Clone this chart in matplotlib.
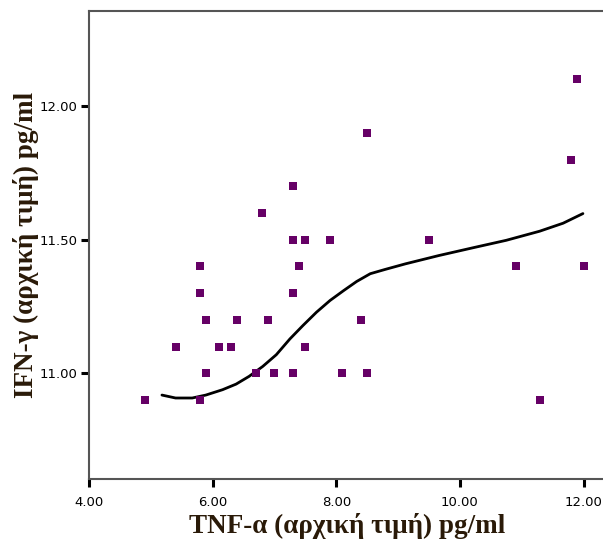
import matplotlib
matplotlib.use("Agg")
import matplotlib.pyplot as plt
from matplotlib.ticker import FixedLocator, FormatStrFormatter

# Data
tnf = [4.9, 5.4, 5.8, 5.8, 5.8, 5.9, 5.9, 6.1, 6.3, 6.4, 6.7, 6.8, 6.9, 7.0,
       7.3, 7.3, 7.3, 7.3, 7.4, 7.5, 7.5, 7.9, 8.1, 8.4, 8.5, 8.5,
       9.5, 10.9, 11.3, 11.8, 11.9, 12.0]
ifn = [10.9, 11.1, 10.9, 11.3, 11.4, 11.0, 11.2, 11.1, 11.1, 11.2, 11.0, 11.6, 11.2, 11.0,
       11.0, 11.3, 11.5, 11.7, 11.4, 11.1, 11.5, 11.5, 11.0, 11.2, 11.0, 11.9,
       11.5, 11.4, 10.9, 11.8, 12.1, 11.4]

# Loess fit line
fit_x = [5.18, 5.40, 5.67, 5.89, 6.16, 6.38, 6.59, 6.81, 7.03, 7.25, 7.46, 7.68,
         7.90, 8.12, 8.33, 8.55, 8.79, 9.12, 9.66, 10.21, 10.75, 11.29, 11.67, 11.99]
fit_y = [10.919, 10.908, 10.908, 10.919, 10.939, 10.960, 10.989, 11.026, 11.070,
         11.129, 11.179, 11.229, 11.273, 11.310, 11.344, 11.373, 11.389, 11.410,
         11.441, 11.470, 11.498, 11.532, 11.562, 11.598]

xticks = [4.0, 6.0, 8.0, 10.0, 12.0]
yticks = [11.0, 11.5, 12.0]
xlabel = "TNF-α (αρχική τιμή) pg/ml"
ylabel = "IFN-γ (αρχική τιμή) pg/ml"

fig = plt.figure(figsize=(6.03, 5.54), dpi=100)
ax = fig.add_axes([0.1476, 0.1354, 0.856, 0.8448])

ax.plot(fit_x, fit_y, color="black", lw=2.0, zorder=2,
        solid_joinstyle="round", solid_capstyle="round")
ax.plot(tnf, ifn, linestyle="none", marker="s", markersize=5.2,
        color="#660066", markeredgewidth=0, zorder=3)

ax.set_xlim(4.0, 12.35)
ax.set_ylim(10.605, 12.356)
ax.xaxis.set_major_locator(FixedLocator(xticks))
ax.yaxis.set_major_locator(FixedLocator(yticks))
ax.xaxis.set_major_formatter(FormatStrFormatter("%.2f"))
ax.yaxis.set_major_formatter(FormatStrFormatter("%.2f"))
ax.tick_params(direction="out", length=6, width=2.2, color="black",
               labelsize=9.5)
ax.tick_params(axis="x", pad=6)
ax.tick_params(axis="y", pad=2)

for s in ["left", "bottom", "top", "right"]:
    ax.spines[s].set_color("#555555")
    ax.spines[s].set_linewidth(1.5)

lab_font = dict(family=["Liberation Serif", "DejaVu Serif"], weight="bold",
                size=19.5, color="#2a1a08")
ax.set_xlabel(xlabel, labelpad=3, **lab_font)
ax.set_ylabel(ylabel, labelpad=1, **lab_font)

fig.savefig("out.png", dpi=100)
